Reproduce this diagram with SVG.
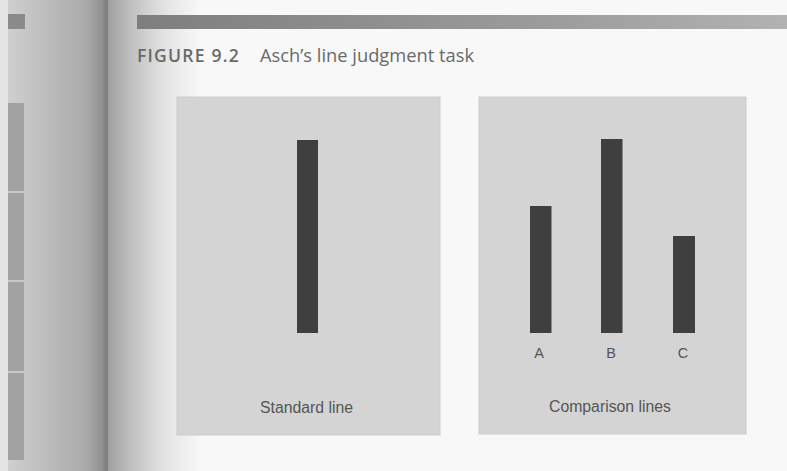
<svg xmlns="http://www.w3.org/2000/svg" width="787" height="471" viewBox="0 0 787 471">
<defs>
<linearGradient id="leftpage" x1="0" y1="0" x2="1" y2="0">
<stop offset="0" stop-color="#d4d4d4"/>
<stop offset="0.25" stop-color="#c6c6c6"/>
<stop offset="0.8" stop-color="#aaaaaa"/>
<stop offset="0.95" stop-color="#929292"/>
<stop offset="1" stop-color="#7e7e7e"/>
</linearGradient>
<linearGradient id="rightpage" x1="0" y1="0" x2="1" y2="0">
<stop offset="0" stop-color="#a0a0a0"/>
<stop offset="0.25" stop-color="#c0c0c0"/>
<stop offset="0.6" stop-color="#e2e2e2"/>
<stop offset="1" stop-color="#f8f8f8"/>
</linearGradient>
<linearGradient id="headbar" x1="0" y1="0" x2="1" y2="0">
<stop offset="0" stop-color="#7e7e7e"/>
<stop offset="0.6" stop-color="#9a9a9a"/>
<stop offset="1" stop-color="#b2b2b2"/>
</linearGradient>
<style>
.panel{fill:#d4d4d4;stroke:#cccccc;stroke-width:1}
.bar{fill:#3f3f3f}
.lbl{font-family:"Liberation Sans",Arial,sans-serif;fill:#555555;text-anchor:middle}
.title{font-family:"Open Sans","Noto Sans",sans-serif;fill:#6a6a6a}
</style>
</defs>
<rect x="0" y="0" width="787" height="471" fill="#f8f8f8"/>
<g id="left-page">
<rect x="0" y="0" width="107" height="471" fill="url(#leftpage)"/>
<rect x="0" y="0" width="8" height="471" fill="#e4e4e4"/>
<rect x="8" y="14" width="17" height="15" fill="#8a8a8a"/>
<rect x="8" y="103" width="16" height="357" fill="#a2a2a2"/>
<rect x="8" y="191" width="16" height="2" fill="#c8c8c8"/>
<rect x="8" y="280" width="16" height="2" fill="#c8c8c8"/>
<rect x="8" y="371" width="16" height="2" fill="#c8c8c8"/>
<rect x="105" y="0" width="3" height="471" fill="#808080"/>
<rect x="108" y="0" width="92" height="471" fill="url(#rightpage)"/>
</g>
<g id="header">
<rect x="137" y="15" width="650" height="14" fill="url(#headbar)"/>
<text class="title" x="137" y="62" font-size="17.5" font-weight="600" letter-spacing="1.2" textLength="103" lengthAdjust="spacingAndGlyphs">FIGURE 9.2</text>
<text class="title" x="260" y="62" font-size="18" textLength="214" lengthAdjust="spacingAndGlyphs">Asch’s line judgment task</text>
</g>
<g id="standard-panel">
<rect class="panel" x="177" y="97" width="263" height="338"/>
<rect class="bar" x="297" y="140" width="21" height="193"/>
<text class="lbl" x="306.5" y="413" font-size="16" textLength="93" lengthAdjust="spacingAndGlyphs">Standard line</text>
</g>
<g id="comparison-panel">
<rect class="panel" x="479" y="97" width="267" height="337"/>
<rect class="bar" x="530" y="206" width="21.5" height="127"/>
<rect class="bar" x="601" y="139" width="21.5" height="194"/>
<rect class="bar" x="673" y="236" width="22" height="97"/>
<text class="lbl" x="539" y="358" font-size="14.5">A</text>
<text class="lbl" x="611" y="358" font-size="14.5">B</text>
<text class="lbl" x="683" y="358" font-size="14.5">C</text>
<text class="lbl" x="610" y="412" font-size="16" textLength="122" lengthAdjust="spacingAndGlyphs">Comparison lines</text>
</g>
</svg>
